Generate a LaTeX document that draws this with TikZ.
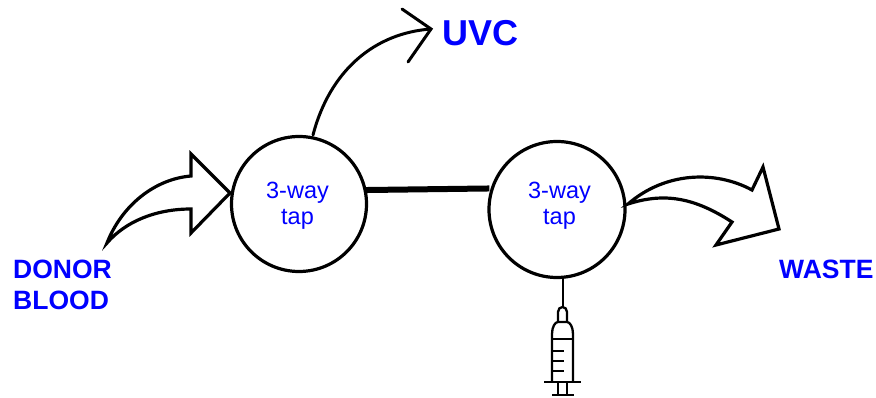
\documentclass[tikz,border=0pt]{standalone}
\usepackage{fontspec}
\setmainfont{Liberation Sans}
\definecolor{lbl}{RGB}{0,0,255}
\newcommand{\taptext}[2]{\hspace*{#1}\raisebox{#2}[30pt][30pt]{\begin{tabular}{@{}c@{}}3-way\\tap\end{tabular}}}
\tikzset{
 tap/.style={circle,draw=black,line width=3.2pt,fill=white,minimum size=135pt,inner sep=0pt,text=lbl,align=center,font=\fontsize{23.5}{26}\selectfont},
 biglabel/.style={text=lbl,inner sep=0pt,font=\fontsize{26.5}{30}\selectfont\bfseries,align=left},
 fatarrow/.style={draw=black,line width=3.2pt,fill=white,line join=miter,miter limit=10},
 syr/.style={draw=black,line width=2.3pt},
}
\begin{document}
\begin{tikzpicture}[x=1pt,y=-1pt]
\useasboundingbox (0,0) rectangle (876,398);
\node[tap] (t1) at (299,204) {\taptext{-3pt}{-8.6pt}};
\node[tap,minimum size=136pt] (t2) at (557,209.5) {\taptext{5pt}{-3.1pt}};
\draw[line width=6pt,shorten <=-2pt,shorten >=-2pt] (t1.east |- 0,190) -- (t2.west |- 0,188.5);
% labels
\node[biglabel,anchor=west,font=\fontsize{36}{40}\selectfont\bfseries] (uvc) at (442,33) {UVC};
\node[biglabel,anchor=north west] (donor) at (13,260) {DONOR\\[0.5pt]BLOOD};
\node[biglabel,anchor=west] (waste) at (779,269) {WASTE};
% thin curved arrow
\coordinate (uvcstart) at (313,135);
\coordinate (uvctip) at (431,29);
\draw[line width=3pt,line cap=round] (uvcstart) .. controls (330,70) and (375,33) .. (uvctip);
\draw[line width=3pt,line cap=round,line join=miter] (402,9) -- (uvctip) -- (408,62);
% donor block arrow
\coordinate (dtail) at (107,243);
\coordinate (dtip) at (230,193);
\draw[fatarrow] (dtail) .. controls (122,205) and (155,179) .. (191,176)
  -- (191,154) -- (dtip) -- (191,233) -- (191,209)
  .. controls (155,209) and (125,222) .. cycle;
% waste block arrow
\coordinate (wtail) at (628,204);
\coordinate (wtip) at (779,229);
\draw[fatarrow] (wtail) .. controls (665,172) and (715,170) .. (752,190)
  -- (763,167) -- (wtip) -- (716,245) -- (732,222)
  .. controls (695,198) and (665,192) .. cycle;
% syringe
\coordinate (needle) at (563,307);
\draw[line width=2.3pt] (t2.south -| needle) -- (needle);
\draw[syr,line join=round] (558,322) -- (558,312) .. controls (558,309) and (560,307) .. (562.5,307) .. controls (565,307) and (567,309) .. (567,312) -- (567,322);
\draw[syr,line join=round] (552,382) -- (552,334) .. controls (552,327) and (555,322) .. (558,322) -- (567,322) .. controls (570,322) and (573,327) .. (573,334) -- (573,382);
\draw[black,line width=1.2pt] (552,339) -- (573,339);
\draw[syr] (552,351) -- (564,351) (552,361) -- (564,361) (552,371) -- (564,371);
\draw[syr] (544,382) -- (581,382);
\draw[syr] (558,382) -- (558,395) (567,382) -- (567,395);
\draw[syr] (552,395) -- (574,395);
\end{tikzpicture}
\end{document}
